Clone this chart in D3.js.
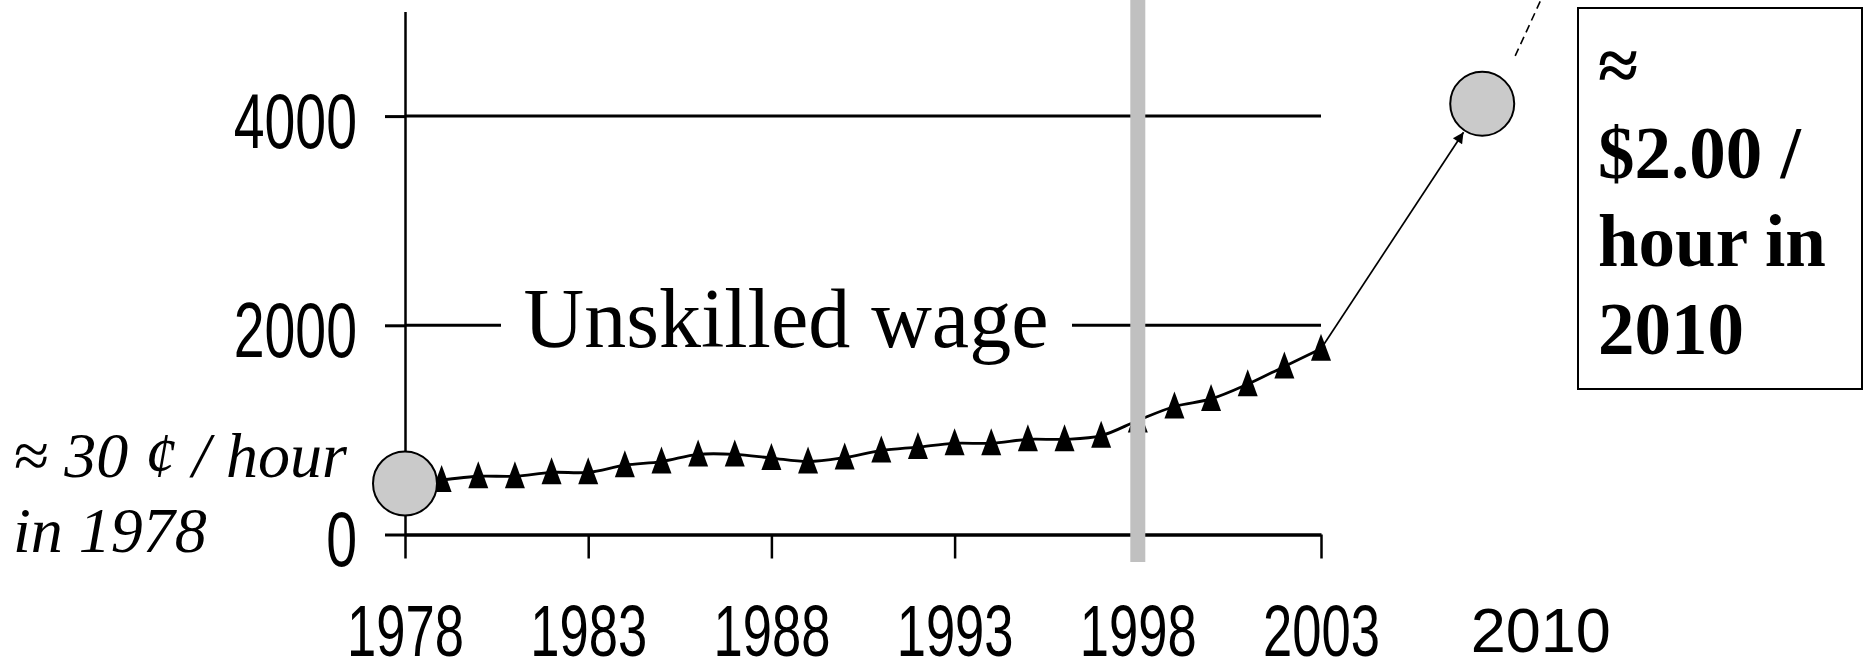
<!DOCTYPE html>
<html>
<head>
<meta charset="utf-8">
<script src="https://cdn.jsdelivr.net/npm/d3@7"></script>
<style>
  body { margin: 0; background: #fff; }
  svg { display: block; }
</style>
</head>
<body>
<div id="chart"></div>
<script>
const WIDTH = 1868
const HEIGHT = 665

// unskilled wage series
const years = [1978, 1979, 1980, 1981, 1982, 1983, 1984, 1985, 1986, 1987, 1988, 1989, 1990,
    1991, 1992, 1993, 1994, 1995, 1996, 1997, 1998, 1999, 2000, 2001, 2002, 2003]
const wages = [500, 522, 557, 557, 594, 594, 663, 697, 766, 766, 731, 697, 735,
    802, 836, 872, 872, 910, 910, 945, 1090, 1224, 1296, 1437, 1607, 1775]

const xTicks = [1978, 1983, 1988, 1993, 1998, 2003]
const yTicks = [0, 2000, 4000]

// annotation points
const startPoint = [1978, 488]
const endPoint = [2007.4, 4118]
const dashFrom = [2008.3, 4575]
const dashTo = [2009.0, 5110]
const markerYear = 1998
const extraLabelYear = 2009
const extraLabel = "2010"

const seriesLabel = "Unskilled wage"
const leftNote = ["\u2248 30 \u00a2 / hour", "in 1978"]
const boxNote = ["\u2248", "$2.00 /", "hour in", "2010"]

const x = d3.scaleLinear().domain([1978, 2003]).range([405, 1321])
const y = d3.scaleLinear().domain([0, 5000]).range([534.5, 11.5])

const svg = d3.select("#chart")
    .append("svg")
    .attr("width", WIDTH)
    .attr("height", HEIGHT)

const SANS = "'Liberation Sans', Arial, sans-serif"
const SERIF = "'Liberation Serif', 'Times New Roman', serif"
const SQUEEZE = 0.72   // axis labels are a condensed face

// gridlines
svg.append("g")
    .selectAll("line")
    .data(yTicks.filter(d => d > 0))
    .join("line")
    .attr("x1", x(1978))
    .attr("x2", x(2003))
    .attr("y1", d => y(d))
    .attr("y2", d => y(d))
    .attr("stroke", "#000")
    .attr("stroke-width", 3)

// y axis
const yAxis = svg.append("g")
    .attr("transform", `translate(${x(1978)},0)`)
    .call(d3.axisLeft(y).tickValues(yTicks).tickSize(20).tickSizeOuter(0).tickFormat(d3.format("d")))
yAxis.select(".domain").attr("stroke-width", 2.5)
yAxis.selectAll(".tick line").attr("stroke-width", 3)
yAxis.selectAll(".tick text")
    .attr("font-family", SANS)
    .attr("font-size", 77)
    .attr("fill", "#000")
    .attr("transform", `scale(${SQUEEZE},1)`)
    .attr("x", -48 / SQUEEZE)
    .attr("dy", null)
    .attr("y", 31)

// x axis
const xAxis = svg.append("g")
    .attr("transform", `translate(0,${y(0)})`)
    .call(d3.axisBottom(x).tickValues(xTicks).tickSize(24).tickSizeOuter(0).tickFormat(d3.format("d")))
xAxis.select(".domain").attr("stroke-width", 3.5)
xAxis.selectAll(".tick line").attr("stroke-width", 2.5)
xAxis.selectAll(".tick text")
    .attr("font-family", SANS)
    .attr("font-size", 73)
    .attr("fill", "#000")
    .attr("transform", `scale(${SQUEEZE},1)`)
    .attr("dy", null)
    .attr("y", 122)

svg.append("text")
    .attr("x", x(extraLabelYear))
    .attr("y", 652)
    .attr("text-anchor", "middle")
    .attr("font-family", SANS)
    .attr("font-size", 63)
    .text(extraLabel)

// series label sitting on the 2000 gridline
const labelG = svg.append("g")
labelG.append("rect")
    .attr("x", 501)
    .attr("y", y(2000) - 10)
    .attr("width", 571)
    .attr("height", 20)
    .attr("fill", "#fff")
labelG.append("text")
    .attr("x", 786)
    .attr("y", 347)
    .attr("text-anchor", "middle")
    .attr("font-family", SERIF)
    .attr("font-size", 84)
    .text(seriesLabel)

// the data line
const data = years.map((yr, i) => ({year: yr, value: wages[i]}))

const line = d3.line()
    .x(d => x(d.year))
    .y(d => y(d.value))
    .curve(d3.curveCatmullRom)

svg.append("path")
    .datum(data)
    .attr("d", line)
    .attr("fill", "none")
    .attr("stroke", "#000")
    .attr("stroke-width", 2.8)

const tri = "M0,-15L10,12L-10,12Z"
svg.append("g")
    .selectAll("path")
    .data(data)
    .join("path")
    .attr("d", tri)
    .attr("transform", d => `translate(${x(d.year)},${y(d.value)})`)
    .attr("fill", "#000")

// arrow toward 2010
svg.append("defs").append("marker")
    .attr("id", "arrow")
    .attr("viewBox", "0 0 10 10")
    .attr("refX", 10)
    .attr("refY", 5)
    .attr("markerWidth", 15)
    .attr("markerHeight", 11)
    .attr("markerUnits", "userSpaceOnUse")
    .attr("orient", "auto")
    .append("path")
    .attr("d", "M0,0L10,5L0,10Z")
    .attr("fill", "#000")

const last = data[data.length - 1]
const ax0 = x(last.year), ay0 = y(last.value)
const cx = x(endPoint[0]), cy = y(endPoint[1])
const len = Math.hypot(cx - ax0, cy - ay0)
const R = 32
svg.append("line")
    .attr("x1", ax0)
    .attr("y1", ay0)
    .attr("x2", cx - (cx - ax0) / len * (R + 2))
    .attr("y2", cy - (cy - ay0) / len * (R + 2))
    .attr("stroke", "#000")
    .attr("stroke-width", 1.7)
    .attr("marker-end", "url(#arrow)")

svg.append("line")
    .attr("x1", x(dashFrom[0]))
    .attr("y1", y(dashFrom[1]))
    .attr("x2", x(dashTo[0]))
    .attr("y2", y(dashTo[1]))
    .attr("stroke", "#000")
    .attr("stroke-width", 1.6)
    .attr("stroke-dasharray", "8,5")

// start / end circles
svg.append("g")
    .selectAll("circle")
    .data([startPoint, endPoint])
    .join("circle")
    .attr("cx", d => x(d[0]))
    .attr("cy", d => y(d[1]))
    .attr("r", R)
    .attr("fill", "#cacaca")
    .attr("stroke", "#000")
    .attr("stroke-width", 2)

// grey marker at 1998
svg.append("rect")
    .attr("x", x(markerYear) - 7.5)
    .attr("y", 0)
    .attr("width", 15)
    .attr("height", 562)
    .attr("fill", "#c0c0c0")

// left note
svg.append("g")
    .attr("font-family", SERIF)
    .attr("font-style", "italic")
    .attr("font-size", 64)
    .selectAll("text")
    .data(leftNote)
    .join("text")
    .attr("x", 13)
    .attr("y", (d, i) => 477 + i * 75)
    .text(d => d)

// boxed note
svg.append("rect")
    .attr("x", 1578)
    .attr("y", 8)
    .attr("width", 284)
    .attr("height", 381)
    .attr("fill", "#fff")
    .attr("stroke", "#000")
    .attr("stroke-width", 2)

svg.append("g")
    .attr("font-family", SERIF)
    .attr("font-weight", "bold")
    .attr("font-size", 73)
    .selectAll("text")
    .data(boxNote)
    .join("text")
    .attr("x", 1598)
    .attr("y", (d, i) => 90 + i * 88)
    .text(d => d)
</script>
</body>
</html>
